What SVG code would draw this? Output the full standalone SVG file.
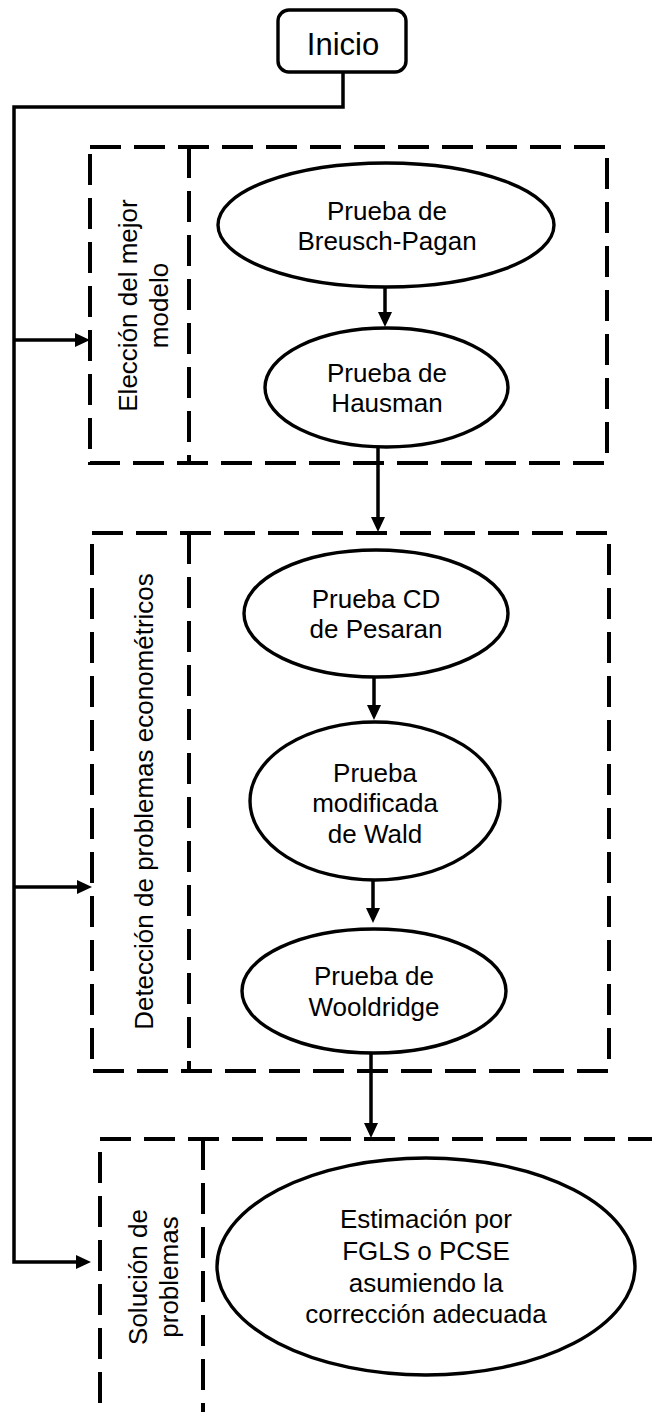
<svg xmlns="http://www.w3.org/2000/svg" width="652" height="1412" viewBox="0 0 652 1412">
  <style>
    .t { font-family: "Liberation Sans", Arial, sans-serif; font-size: 26px; fill: #000; text-anchor: middle; }
    .big { font-size: 31px; }
    .node { fill: #fff; stroke: #000; stroke-width: 3.4; }
    .lane { fill: none; stroke: #000; stroke-width: 4; stroke-dasharray: 31 13; }
    .conn { fill: none; stroke: #000; stroke-width: 3.5; stroke-linejoin: miter; }
  </style>
  <defs>
    <marker id="arrow" markerUnits="userSpaceOnUse" markerWidth="15" markerHeight="14" refX="5" refY="7" orient="auto">
      <path d="M0,0 L15,7 L0,14 z" fill="#000"/>
    </marker>
  </defs>
  <rect x="0" y="0" width="652" height="1412" fill="#fff"/>

  <g id="lane-eleccion">
    <rect class="lane" x="90" y="147" width="517" height="316"/>
    <line class="lane" x1="189" y1="147" x2="189" y2="463"/>
    <text class="t" transform="translate(137,305.5) rotate(-90)">Elección del mejor</text>
    <text class="t" transform="translate(168,305.5) rotate(-90)">modelo</text>
  </g>

  <g id="lane-deteccion">
    <rect class="lane" x="92" y="533" width="517" height="538"/>
    <line class="lane" x1="189" y1="533" x2="189" y2="1071"/>
    <text class="t" transform="translate(153,801.5) rotate(-90)">Detección de problemas econométricos</text>
  </g>

  <g id="lane-solucion">
    <rect class="lane" x="100" y="1139" width="700" height="400"/>
    <line class="lane" x1="203" y1="1139" x2="203" y2="1460"/>
    <text class="t" transform="translate(147,1277) rotate(-90)">Solución de</text>
    <text class="t" transform="translate(178,1277) rotate(-90)">problemas</text>
  </g>

  <g id="connectors">
    <path class="conn" d="M343,72 V107 H14 V1262 H81" marker-end="url(#arrow)"/>
    <path class="conn" d="M14,340 H80" marker-end="url(#arrow)"/>
    <path class="conn" d="M14,887 H82" marker-end="url(#arrow)"/>
    <path class="conn" d="M385,287 V317" marker-end="url(#arrow)"/>
    <path class="conn" d="M378,447 V522" marker-end="url(#arrow)"/>
    <path class="conn" d="M374,677 V710" marker-end="url(#arrow)"/>
    <path class="conn" d="M373,880 V913" marker-end="url(#arrow)"/>
    <path class="conn" d="M371,1053 V1128" marker-end="url(#arrow)"/>
  </g>

  <g id="inicio">
    <rect class="node" x="278" y="10" width="128" height="62" rx="11"/>
    <text class="t big" x="343" y="55">Inicio</text>
  </g>

  <g id="breusch-pagan">
    <ellipse class="node" cx="386" cy="225" rx="168" ry="62"/>
    <text class="t" x="387" y="220">Prueba de</text>
    <text class="t" x="387" y="250">Breusch-Pagan</text>
  </g>

  <g id="hausman">
    <ellipse class="node" cx="386.5" cy="387.5" rx="121.5" ry="59.5"/>
    <text class="t" x="387" y="382">Prueba de</text>
    <text class="t" x="387" y="412">Hausman</text>
  </g>

  <g id="pesaran">
    <ellipse class="node" cx="376" cy="613.5" rx="132" ry="63.5"/>
    <text class="t" x="376" y="608">Prueba CD</text>
    <text class="t" x="376" y="638">de Pesaran</text>
  </g>

  <g id="wald">
    <ellipse class="node" cx="375" cy="801" rx="125" ry="79"/>
    <text class="t" x="375" y="782">Prueba</text>
    <text class="t" x="375" y="812">modificada</text>
    <text class="t" x="375" y="843">de Wald</text>
  </g>

  <g id="wooldridge">
    <ellipse class="node" cx="374" cy="991" rx="132" ry="62"/>
    <text class="t" x="374" y="985">Prueba de</text>
    <text class="t" x="374" y="1016">Wooldridge</text>
  </g>

  <g id="estimacion">
    <ellipse class="node" cx="426" cy="1266.5" rx="209" ry="108.5"/>
    <text class="t" x="426" y="1228">Estimación por</text>
    <text class="t" x="426" y="1260">FGLS o PCSE</text>
    <text class="t" x="426" y="1292">asumiendo la</text>
    <text class="t" x="426" y="1323">corrección adecuada</text>
  </g>
</svg>
